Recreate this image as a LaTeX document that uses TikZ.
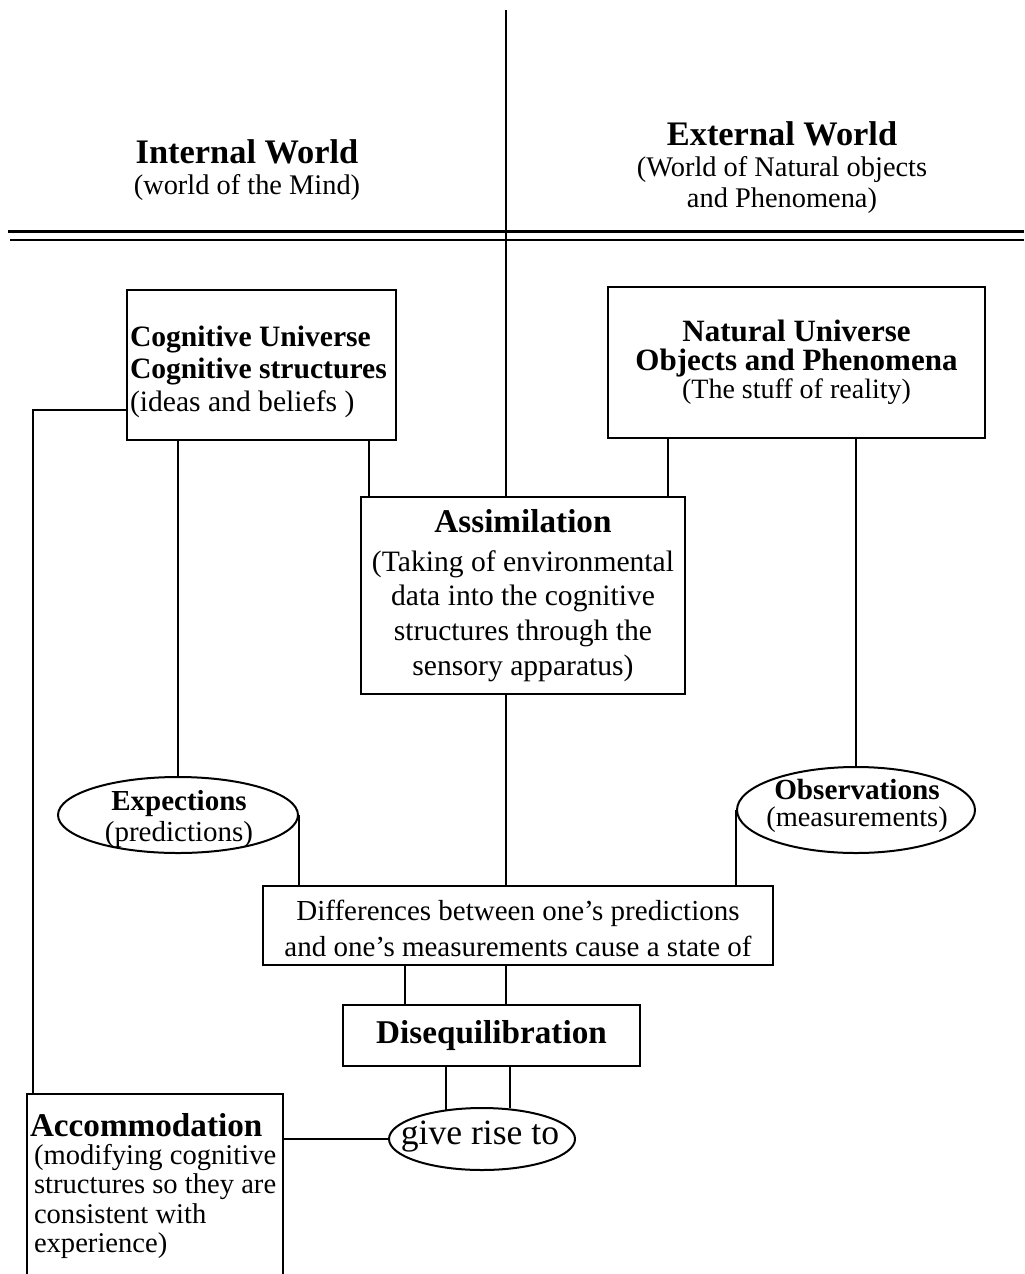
\documentclass[tikz,border=0pt]{standalone}
\usepackage{fontspec}
\setmainfont{Liberation Serif}
\usetikzlibrary{shapes.geometric}
\newcommand\dghead{\fontsize{16.6}{18}\selectfont\bfseries}
\newcommand\dgtitle{\fontsize{17.2}{16.5}\selectfont\bfseries}
\tikzset{
  box/.style={draw,line width=1pt,inner sep=1.5pt,align=center},
  oval/.style={draw,ellipse,line width=1pt,inner sep=0pt},
  link/.style={line width=1pt},
  txt/.style={inner sep=0pt,align=center},
}

\begin{document}
\begin{tikzpicture}[x=0.5pt,y=-0.5pt,font=\fontsize{14.8}{17}\selectfont]
  \useasboundingbox (0,0) rectangle (1024,1274);
  \node[txt,font=\fontsize{14.2}{15.5}\selectfont] (inner) at (247,170) {{\dgtitle Internal World}\\(world of the Mind)};
  \node[txt,font=\fontsize{14.2}{15.5}\selectfont] (outer) at (782,168) {{\dgtitle External World}\\(World of Natural objects\\and Phenomena)};
  \draw[line width=1.5pt] (8,231) -- (1024,231);
  \draw[line width=0.6pt] (10,240) -- (1024,240);
  \coordinate (ctop) at (506,10);

  \node[box,minimum width=134.5pt,minimum height=75pt,text width=131.5pt,align=flush left,
        font=\fontsize{14.8}{16.3}\selectfont] (cog) at (261.5,365)
        {\rule{0pt}{17pt}\textbf{Cognitive Universe}\\\textbf{Cognitive structures}\\(ideas and beliefs )};
  \node[box,minimum width=188.5pt,minimum height=75.5pt,font=\fontsize{15.5}{14.3}\selectfont] (nat) at (796.5,362.5)
        {\textbf{Natural Universe}\\\textbf{Objects and Phenomena}\\{\fontsize{14}{14.3}\selectfont(The stuff of reality)}};
  \node[box,minimum width=162pt,minimum height=98.5pt,font=\fontsize{14.8}{17.4}\selectfont] (assim) at (523,595.5)
        {{\dghead Assimilation}\\[2pt](Taking of environmental\\data into the cognitive\\structures through the\\sensory apparatus)};

  \node[oval,minimum width=120pt,minimum height=38pt] (exp) at (178,815) {};
  \node[txt,font=\fontsize{14.5}{15.5}\selectfont] (exp-txt) at (179,819) {\textbf{Expections}\\(predictions)};
  \node[oval,minimum width=119pt,minimum height=43pt] (obs) at (856,810) {};
  \node[txt,font=\fontsize{14.2}{13.5}\selectfont] (obs-txt) at (857,806) {{\fontsize{14.6}{13.5}\selectfont\bfseries Observations}\\(measurements)};

  \node[box,minimum width=255pt,minimum height=39.5pt,font=\fontsize{14.5}{18}\selectfont] (diff) at (518,925.5)
        {\rule{0pt}{13pt}Differences between one’s predictions\\and one’s measurements cause a state of};
  \node[box,minimum width=148.5pt,minimum height=30.5pt,font=\dghead] (dis) at (491.5,1035.5) {Disequilibration};
  \node[oval,minimum width=93pt,minimum height=31pt] (give) at (482,1139) {};
  \node[txt,font=\fontsize{17.8}{20}\selectfont] (give-txt) at (480,1137) {give rise to};
  \node[box,anchor=north west,minimum height=92pt,text width=125pt,align=flush left,
        font=\fontsize{14.3}{14.6}\selectfont] (acc) at (26,1093)
        {{\dghead Accommodation}\\[-0.5pt]\hspace*{2pt}(modifying cognitive\\\hspace*{2pt}structures so they are\\\hspace*{2pt}consistent with\\\hspace*{2pt}experience)};

  \coordinate (bend) at (33,410);
  \coordinate (xa) at (369,0);
  \coordinate (xb) at (668,0);
  \coordinate (xd) at (405,0);
  \draw[line width=0.6pt] (ctop) -- (assim.north -| ctop);
  \draw[link] (cog.west |- bend) -- (bend) -- (bend |- acc.north);
  \draw[link] (cog.south -| exp.north) -- (exp.north);
  \draw[link] (cog.south -| xa) -- (assim.north -| xa);
  \draw[link] (nat.south -| xb) -- (assim.north -| xb);
  \draw[link] (nat.south -| obs.north) -- (obs.north);
  \draw[link] (exp.east) -- (exp.east |- diff.north);
  \draw[link] (obs.west) -- (obs.west |- diff.north);
  \draw[link] (assim.south -| ctop) -- (diff.north -| ctop);
  \draw[link] (diff.south -| xd) -- (dis.north -| xd);
  \draw[link] (diff.south -| ctop) -- (dis.north -| ctop);
  \draw[link] (dis.south -| give.141) -- (give.141);
  \draw[link] (dis.south -| give.48) -- (give.48);
  \draw[link] (acc.east |- give.west) -- (give.west);
\end{tikzpicture}
\end{document}
